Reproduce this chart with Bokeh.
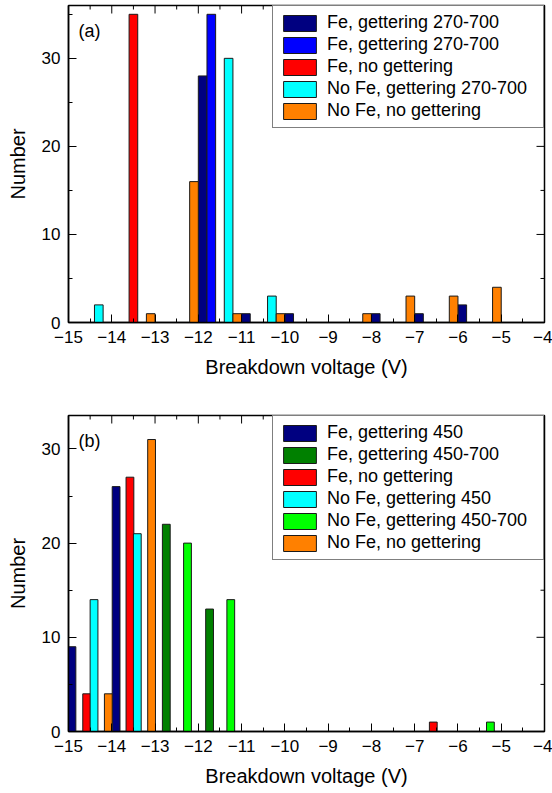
import math

from bokeh.plotting import figure
from bokeh.models import (ColumnDataSource, Legend, LegendItem,
                          SingleIntervalTicker, Range1d, Label)
from bokeh.layouts import column
from bokeh.embed import file_html
from bokeh.resources import INLINE

FONT = "Liberation Sans"

# ---- Panel (a): breakdown voltage histograms, gettering 270-700 ----
a_labels = ["Fe, gettering 270-700", "Fe, gettering 270-700", "Fe, no gettering",
            "No Fe, gettering 270-700", "No Fe, no gettering"]
a_colors = ["#000080", "#0000FF", "#FF0000", "#00FFFF", "#FF8000"]
a_x = [
    [-11.9, -10.9, -9.9, -7.9, -6.9, -5.9],
    [-11.7],
    [-13.5],
    [-14.3, -11.3, -10.3],
    [-13.1, -12.1, -11.1, -10.1, -8.1, -7.1, -6.1, -5.1],
]
a_counts = [
    [28, 1, 1, 1, 1, 2],
    [35],
    [35],
    [2, 30, 3],
    [1, 16, 1, 1, 1, 3, 3, 4],
]

# ---- Panel (b): breakdown voltage histograms, gettering 450 / 450-700 ----
b_labels = ["Fe, gettering 450", "Fe, gettering 450-700", "Fe, no gettering",
            "No Fe, gettering 450", "No Fe, gettering 450-700", "No Fe, no gettering"]
b_colors = ["#000080", "#008000", "#FF0000", "#00FFFF", "#00FF00", "#FF8000"]
b_x = [
    [-14.92, -13.9],
    [-12.74, -11.74],
    [-14.58, -13.58, -6.57],
    [-14.41, -13.41],
    [-12.25, -11.25, -5.25],
    [-14.08, -13.08],
]
b_counts = [
    [9, 26],
    [22, 13],
    [4, 27, 1],
    [14, 21],
    [20, 14, 1],
    [4, 31],
]

X_RANGE = (-15, -4)
A_YMAX = 36.0
B_YMAX = 33.55

# tick positions shared by both panels (also mirrored on top / right edges)
x_major = [-15, -14, -13, -12, -11, -10, -9, -8, -7, -6, -5, -4]
x_minor = [-14.5, -13.5, -12.5, -11.5, -10.5, -9.5, -8.5, -7.5, -6.5, -5.5, -4.5]
y_major = [0, 10, 20, 30]
y_minor = [5, 15, 25, 35]


def style_axis(ax):
    ax.axis_line_color = "black"
    ax.axis_line_width = 1.5
    ax.major_tick_line_color = "black"
    ax.minor_tick_line_color = "black"
    ax.major_tick_in = 8
    ax.major_tick_out = 0
    ax.minor_tick_in = 4
    ax.minor_tick_out = 0
    ax.major_label_text_font = FONT
    ax.major_label_text_font_size = "17px"
    ax.major_label_text_color = "black"
    ax.major_label_standoff = 8
    ax.axis_label_text_font = FONT
    ax.axis_label_text_font_size = "20px"
    ax.axis_label_text_font_style = "normal"
    ax.axis_label_text_color = "black"
    ax.axis_label_standoff = 10


def mirror_ticks(p, ymax):
    # inward tick marks along the top and right frame edges
    p.ray(x=x_major, y=[ymax] * len(x_major), length=8, length_units="screen",
          angle=-math.pi / 2, line_color="black", line_width=1)
    p.ray(x=x_minor, y=[ymax] * len(x_minor), length=4, length_units="screen",
          angle=-math.pi / 2, line_color="black", line_width=1)
    ym = [v for v in y_minor if v < ymax]
    p.ray(x=[X_RANGE[1]] * len(y_major), y=y_major, length=8, length_units="screen",
          angle=math.pi, line_color="black", line_width=1)
    p.ray(x=[X_RANGE[1]] * len(ym), y=ym, length=4, length_units="screen",
          angle=math.pi, line_color="black", line_width=1)


def make_panel(labels, colors, xs, counts, ymax, bar_width, tag, tag_y,
               height, top_border, bottom_border):
    p = figure(width=552, height=height, output_backend="svg", toolbar_location=None,
               x_range=Range1d(*X_RANGE), y_range=Range1d(0, ymax),
               min_border_left=68, min_border_right=8,
               min_border_top=top_border, min_border_bottom=bottom_border)
    p.xgrid.visible = False
    p.ygrid.visible = False
    p.outline_line_color = "black"
    p.outline_line_width = 1.5
    p.background_fill_color = "white"

    p.xaxis.ticker = SingleIntervalTicker(interval=1, num_minor_ticks=2)
    p.yaxis.ticker = SingleIntervalTicker(interval=10, num_minor_ticks=2)
    p.xaxis.axis_label = "Breakdown voltage (V)"
    p.yaxis.axis_label = "Number"
    style_axis(p.xaxis[0])
    style_axis(p.yaxis[0])

    items = []
    for lab, col, x, c in zip(labels, colors, xs, counts):
        src = ColumnDataSource(dict(x=x, top=c))
        r = p.vbar(x="x", top="top", width=bar_width, bottom=0, source=src,
                   fill_color=col, line_color="#1a1a1a", line_width=1)
        items.append(LegendItem(label=lab, renderers=[r]))

    mirror_ticks(p, ymax)

    legend = Legend(items=items, location="top_right", margin=0, padding=6,
                    spacing=1, glyph_width=41, glyph_height=20,
                    label_height=20, label_width=210, label_standoff=7,
                    label_text_font=FONT, label_text_font_size="18px",
                    label_text_color="black",
                    border_line_color="black", border_line_width=1.2,
                    background_fill_color="white", background_fill_alpha=1)
    p.add_layout(legend)

    p.add_layout(Label(x=-14.77, y=tag_y, text=tag, text_font=FONT,
                       text_font_size="18px", text_color="black",
                       text_baseline="middle", text_align="left"))
    return p


pa = make_panel(a_labels, a_colors, a_x, a_counts, A_YMAX, 0.2, "(a)", 33.1,
                height=395, top_border=5, bottom_border=73)
pb = make_panel(b_labels, b_colors, b_x, b_counts, B_YMAX, 0.18, "(b)", 30.8,
                height=398, top_border=20, bottom_border=62)

layout = column(pa, pb, spacing=0)
open("out.html", "w").write(file_html(layout, INLINE))
